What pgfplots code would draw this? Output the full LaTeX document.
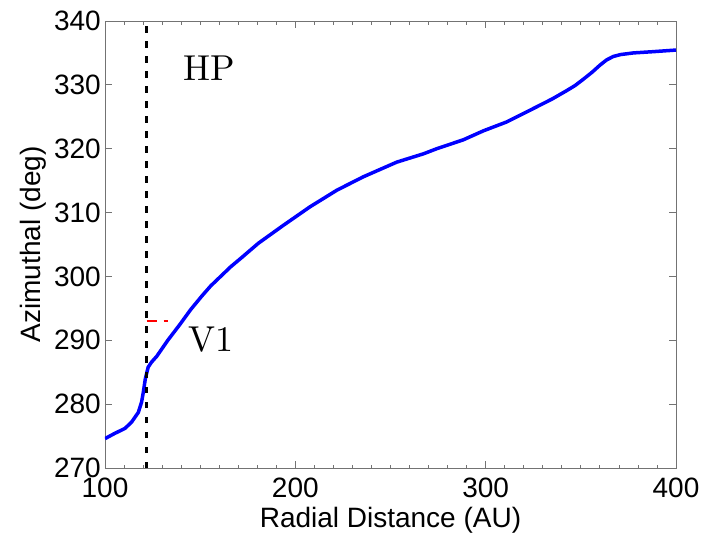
\documentclass[border=0pt]{standalone}
\usepackage{pgfplots}
\pgfplotsset{compat=1.18}
\usepackage{fontspec}
\setsansfont{Liberation Sans}
\newfontfamily\lmten{lmroman10-regular}[Extension=.otf]
\begin{document}
\begin{tikzpicture}
\begin{axis}[
  scale only axis,
  width=571pt, height=447pt,
  at={(0,0)}, anchor=south west,
  xmin=100, xmax=400, ymin=270, ymax=340,
  xtick={100,200,300,400},
  minor x tick num=9,
  ytick={270,280,290,300,310,320,330,340},
  tick align=inside,
  major tick length=7pt, minor tick length=3.5pt,
  axis line style={black!55, line width=0.9pt},
  every tick/.style={black!55, line width=0.9pt},
  every minor tick/.style={black!55, line width=0.8pt},
  tick label style={font=\sffamily\fontsize{28}{34}\selectfont, text=black},
  /pgf/number format/assume math mode=true,
  yticklabel style={anchor=east, inner sep=0pt, xshift=-4pt},
  xticklabel style={anchor=north, inner sep=0pt, yshift=-10pt},
  every axis x label/.style={at={(axis description cs:0.5,-0.132)}, anchor=base},
  every axis y label/.style={at={(axis description cs:-0.1138,0.5)}, rotate=90, anchor=base},
  label style={font=\sffamily\fontsize{28}{34}\selectfont},
  xlabel={Radial Distance (AU)},
  ylabel={Azimuthal (deg)},
  clip=true,
]
\addplot[blue, line width=3.5pt, line join=round] coordinates {
(100,274.6) (105,275.4) (110.5,276.2) (114,277.2) (117.5,278.7) (119.2,280.3)
(120.1,281.8) (121.2,284.0) (122.7,285.8) (124.5,286.6) (127.2,287.5) (133,290.0)
(139.4,292.5) (145,294.8) (150.8,296.9) (155.5,298.5) (160.4,299.9) (166,301.5)
(172,303.0) (180.6,305.2) (193.7,308.0) (207.7,310.9) (221.8,313.5) (235.7,315.6)
(253.3,317.9) (267.3,319.2) (274.3,320.0) (288.3,321.4) (298.8,322.8) (311.1,324.2)
(325.1,326.3) (335,327.8) (342.6,329.1) (347,329.9) (351.4,330.9) (356,332.0)
(360.1,333.1) (363.5,333.9) (367.1,334.45) (371,334.75) (377.6,335.0) (388.1,335.2) (400,335.45)
};
\addplot[black, line width=3pt, dash pattern=on 6.5pt off 8.5pt] coordinates {(121.9,270) (121.9,340)};
\addplot[red, line width=1.6pt, dash pattern=on 10pt off 7pt] coordinates {(121.9,293) (133,293)};
\node[anchor=base west, inner sep=0pt, font=\lmten\fontsize{36}{40}\selectfont] at (axis cs:141.1,330.76) {HP};
\node[anchor=base west, inner sep=0pt, font=\lmten\fontsize{36}{40}\selectfont] at (axis cs:143.8,288.2) {V1};
\end{axis}
\pgfresetboundingbox
\useasboundingbox (-105pt,-65pt) rectangle (599pt,468pt);
\end{tikzpicture}
\end{document}
